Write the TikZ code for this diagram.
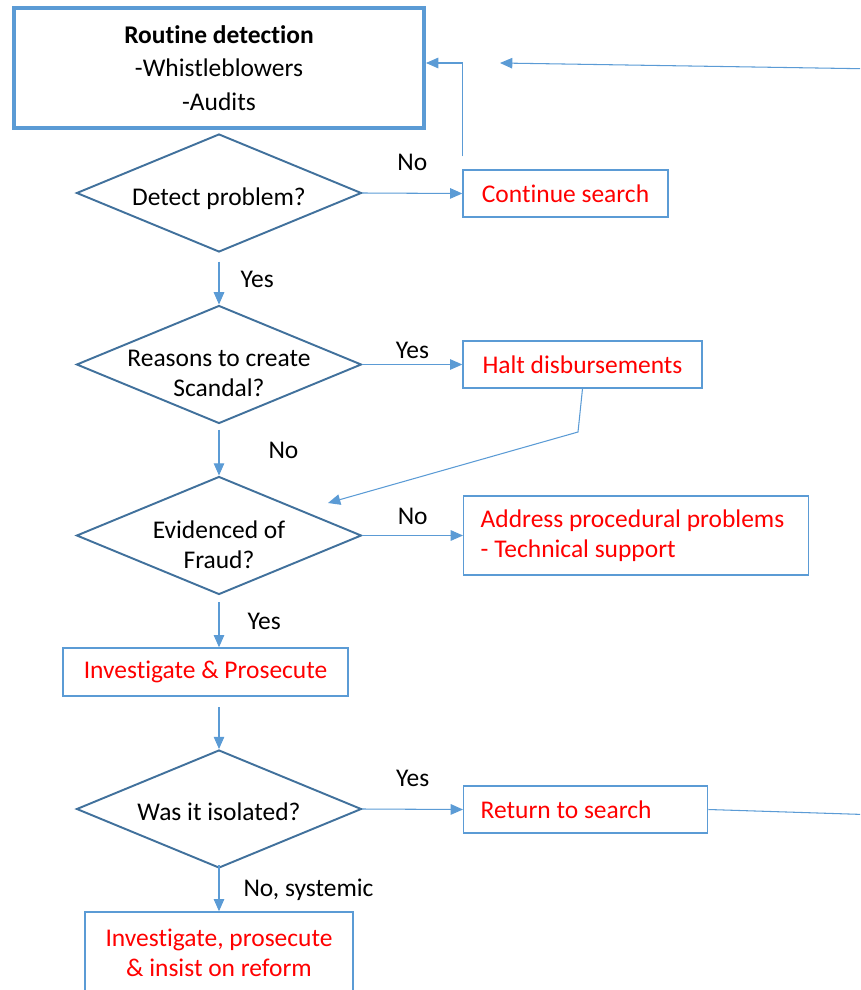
\documentclass[tikz,border=0pt]{standalone}
\usepackage{fontspec}
\setmainfont{Carlito}[RawFeature={-liga;-calt;-clig}]
\usetikzlibrary{shapes.geometric,arrows.meta,positioning}
\definecolor{linkblue}{HTML}{5B9BD5}
\definecolor{edgeblue}{HTML}{41719C}
\definecolor{alertred}{HTML}{FF0000}
\newcommand{\dropto}[1]{\rule{0pt}{#1}}

\begin{document}
\begin{tikzpicture}[x=0.02cm,y=-0.02cm,font=\fontsize{14.5}{17}\selectfont]

    \tikzstyle{decision}=[diamond,aspect=2.4,draw=edgeblue,line width=1.1pt,inner sep=-14pt,minimum width=5.7cm,minimum height=2.36cm,align=center]
    \tikzstyle{action}=[draw=linkblue,line width=0.8pt,text=alertred,minimum height=0.94cm,align=center]
    \tikzstyle{flow}=[draw=linkblue,line width=0.6pt,-{Triangle[length=7pt,width=6pt]}]
    \tikzstyle{answer}=[inner sep=0pt]

    \useasboundingbox (0,0) rectangle (860,990);
    \clip (0,0) rectangle (860,990);

    % main column
    \node (routine) [draw=linkblue,line width=2.3pt,minimum width=8.2cm,minimum height=2.4cm,align=center,font=\fontsize{14.5}{19}\selectfont] at (219,68) {\textbf{Routine detection}\\-Whistleblowers\\-Audits};
    \node (detect) [decision] at (219,193) {\dropto{17pt}Detect problem?};
    \node (scandal) [decision] at (219,364.5) {\dropto{19.5pt}Reasons to create\\Scandal?};
    \node (fraud) [decision] at (219,535.5) {\dropto{21pt}Evidenced of\\Fraud?};
    \node (prosecute) [action,minimum width=5.7cm,minimum height=0.96cm] at (205.5,672) {Investigate \& Prosecute};
    \node (isolated) [decision] at (219,809) {\dropto{13pt}Was it isolated?};
    \node (reform) [action,minimum width=5.36cm,minimum height=1.64cm] at (219,953) {Investigate, prosecute\\\& insist on reform};

    % side column
    \node (search) [action,minimum width=4.1cm] at (565.5,193.5) {Continue search};
    \node (halt) [action,minimum width=4.78cm] at (582.5,364.5) {Halt disbursements};
    \node (address) [action,anchor=west,minimum height=1.58cm,text width=6.22cm,inner xsep=0.34cm,align=flush left] at (463,535.5) {Address procedural problems\\- Technical support};
    \node (restart) [action,anchor=west,text width=4.2cm,inner xsep=0.34cm,align=flush left] at (463,809.5) {Return to search};

    \coordinate (haltbend) at (578,432);
    \coordinate (haltend) at (328,503);
    \coordinate (loopin) at (880,69);
    \coordinate (loopend) at (500,63);
    \coordinate (loopout) at (880,815);

    % connectors
    \draw [flow] (detect.east) -- node [answer,above=12.5pt] {No} (search.west);
    \draw [flow] ([yshift=0.26cm]search.north west) |- ([yshift=0.1cm]routine.east);
    \draw [flow,shorten <=5pt] (detect.south) -- node [answer,right=0.42cm,yshift=-0.5pt] {Yes} (scandal.north);
    \draw [flow] (scandal.east) -- node [answer,above=3pt] {Yes} (halt.west);
    \draw [flow] (halt.south) -- (haltbend) -- (haltend);
    \draw [flow,shorten <=3pt] (scandal.south) -- node [answer,right=0.98cm] {No} (fraud.north);
    \draw [flow] (fraud.east) -- node [answer,above=6pt] {No} (address.west);
    \draw [flow,shorten <=4pt] (fraud.south) -- node [answer,right=0.56cm] {Yes} (prosecute.north -| fraud.south);
    \draw [flow,shorten <=6pt] (prosecute.south -| isolated.north) -- (isolated.north);
    \draw [flow] (isolated.east) -- node [answer,above=12.5pt] {Yes} (restart.west);
    \draw [flow,shorten <=-2pt] (isolated.south) -- node [answer,right=0.48cm] {No, systemic} (reform.north);
    \draw [draw=linkblue,line width=0.6pt] (restart.east) -- (loopout);
    \draw [flow] (loopin) -- (loopend);

\end{tikzpicture}
\end{document}
